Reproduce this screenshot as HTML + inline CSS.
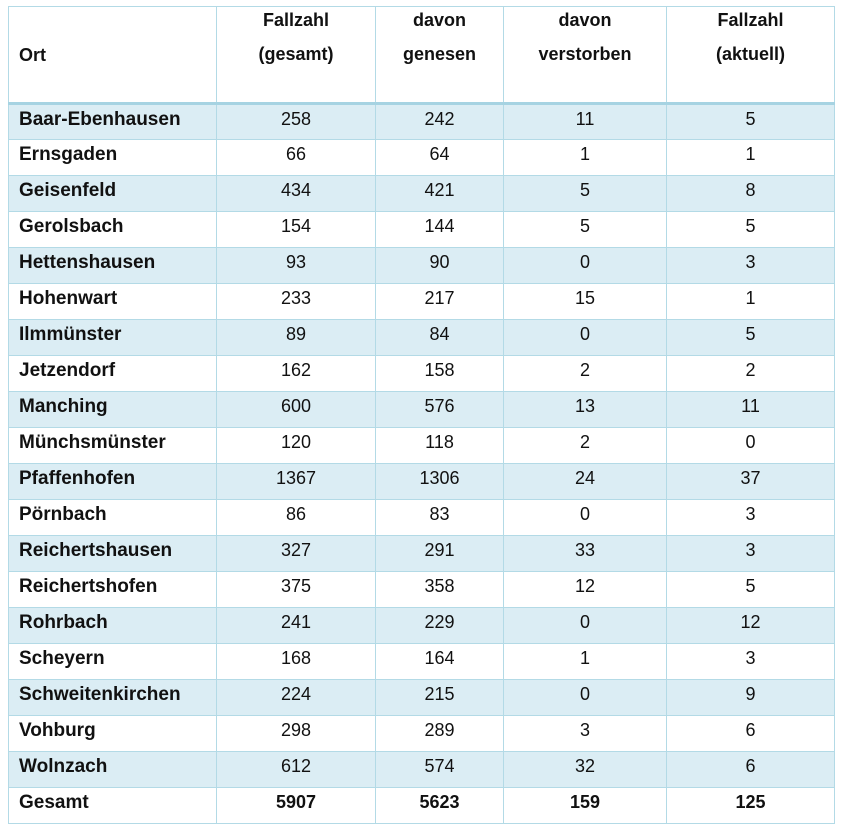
<!DOCTYPE html>
<html><head><meta charset="utf-8"><style>
body{margin:0;background:#fff;width:841px;height:834px;overflow:hidden}
table{position:absolute;left:8px;top:6px;border-collapse:collapse;font-family:"Liberation Sans",sans-serif;font-size:18px;color:#111;table-layout:fixed}
td{border:1.5px solid #b3dae6;padding:0 10px 7px 10px;height:35px;text-align:center;box-sizing:border-box;line-height:20px}
tr{height:36px}
td:first-child{text-align:left;font-weight:bold;font-size:19px;padding:0 10px 5px 10px}
tr.h{height:97px}
tr.h td{height:97px;font-weight:bold;line-height:34px;border-bottom:3px solid #a6d3e2;vertical-align:top;padding:0 10px}
tr.h td span{position:relative;top:-4px}
tr.h td:first-child{vertical-align:middle;font-size:18px}
tr.s td{background:#dbedf4}
tr.t td{font-weight:bold}
</style></head><body>
<table>
<colgroup><col style="width:208px"><col style="width:159px"><col style="width:128px"><col style="width:163px"><col style="width:168px"></colgroup>
<tr class="h"><td>Ort</td><td><span>Fallzahl<br>(gesamt)</span></td><td><span>davon<br>genesen</span></td><td><span>davon<br>verstorben</span></td><td><span>Fallzahl<br>(aktuell)</span></td></tr>
<tr class="s"><td>Baar-Ebenhausen</td><td>258</td><td>242</td><td>11</td><td>5</td></tr>
<tr><td>Ernsgaden</td><td>66</td><td>64</td><td>1</td><td>1</td></tr>
<tr class="s"><td>Geisenfeld</td><td>434</td><td>421</td><td>5</td><td>8</td></tr>
<tr><td>Gerolsbach</td><td>154</td><td>144</td><td>5</td><td>5</td></tr>
<tr class="s"><td>Hettenshausen</td><td>93</td><td>90</td><td>0</td><td>3</td></tr>
<tr><td>Hohenwart</td><td>233</td><td>217</td><td>15</td><td>1</td></tr>
<tr class="s"><td>Ilmmünster</td><td>89</td><td>84</td><td>0</td><td>5</td></tr>
<tr><td>Jetzendorf</td><td>162</td><td>158</td><td>2</td><td>2</td></tr>
<tr class="s"><td>Manching</td><td>600</td><td>576</td><td>13</td><td>11</td></tr>
<tr><td>Münchsmünster</td><td>120</td><td>118</td><td>2</td><td>0</td></tr>
<tr class="s"><td>Pfaffenhofen</td><td>1367</td><td>1306</td><td>24</td><td>37</td></tr>
<tr><td>Pörnbach</td><td>86</td><td>83</td><td>0</td><td>3</td></tr>
<tr class="s"><td>Reichertshausen</td><td>327</td><td>291</td><td>33</td><td>3</td></tr>
<tr><td>Reichertshofen</td><td>375</td><td>358</td><td>12</td><td>5</td></tr>
<tr class="s"><td>Rohrbach</td><td>241</td><td>229</td><td>0</td><td>12</td></tr>
<tr><td>Scheyern</td><td>168</td><td>164</td><td>1</td><td>3</td></tr>
<tr class="s"><td>Schweitenkirchen</td><td>224</td><td>215</td><td>0</td><td>9</td></tr>
<tr><td>Vohburg</td><td>298</td><td>289</td><td>3</td><td>6</td></tr>
<tr class="s"><td>Wolnzach</td><td>612</td><td>574</td><td>32</td><td>6</td></tr>
<tr class="t"><td>Gesamt</td><td>5907</td><td>5623</td><td>159</td><td>125</td></tr>
</table>
</body></html>
